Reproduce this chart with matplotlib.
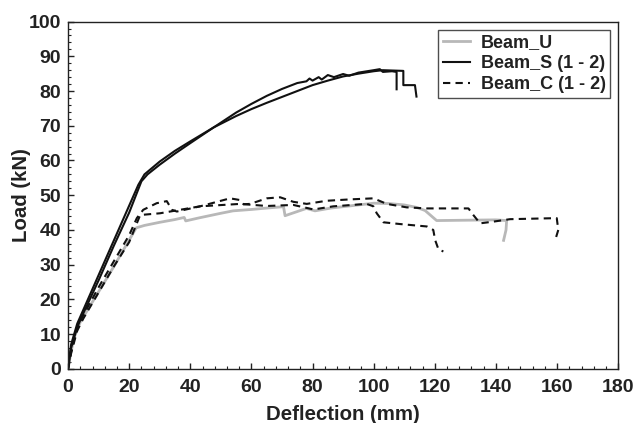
import matplotlib.pyplot as plt
from matplotlib.ticker import MultipleLocator

plt.rcParams['font.family'] = ['Liberation Sans', 'DejaVu Sans']
plt.rcParams['font.weight'] = 'bold'

# Beam_U (unstrengthened)
u_x = [0, 1, 2, 4, 10, 15, 22.3, 25, 30, 35, 38, 38.5, 43, 50, 54, 60, 65, 70.5, 71, 75, 78,
       80.8, 86, 92, 100, 105, 110, 114, 116.8, 120.6, 130, 140, 143.5, 143.3, 142.5]
u_y = [0, 5, 9, 13.5, 22.2, 29.5, 40.6, 41.3, 42.2, 43, 43.6, 42.6, 43.5, 44.8, 45.5, 45.9, 46.3, 46.7, 44.1, 45.3, 46.2,
       45.5, 46.3, 46.9, 47.7, 47.6, 47.2, 46.5, 45.6, 42.7, 42.8, 42.9, 42.7, 40, 37]

# Beam_S specimens 1 and 2
s1_x = [0, 1, 3, 5, 10, 15, 20, 24, 26, 30, 35, 40, 47.6, 55, 60, 65, 70, 75, 78, 79, 80, 82, 83,
        85, 87, 90, 92, 95, 100, 102, 103, 106, 107.5, 107.5]
s1_y = [0, 6, 12, 16, 25.5, 35.5, 45, 54, 56, 58.8, 62, 65, 69.5, 73.8, 76.3, 78.6, 80.6, 82.3, 82.8, 83.6, 83, 84, 83.3,
        84.6, 84, 84.9, 84.4, 85.3, 86, 86.3, 85.5, 85.7, 85.5, 80.5]
s2_x = [0, 1, 3, 5, 10, 15, 20, 23, 25, 30, 35, 40, 47.6, 55, 60, 65, 70, 75, 80, 85, 90, 95, 100,
        103, 109.7, 109.7, 113.5, 114]
s2_y = [0, 7, 13, 17, 27, 37, 47, 53, 56, 59.7, 62.8, 65.5, 69.5, 72.8, 74.8, 76.6, 78.3, 80, 81.7, 83, 84.2, 85, 85.7,
        86, 85.8, 81.7, 81.7, 78.4]

# Beam_C specimens 1 and 2
c1_x = [0, 1, 3, 5, 10, 15, 20, 22.5, 24.6, 29, 32.3, 34, 35.6, 43.2, 53, 56.3, 57.4, 59.6, 65, 69.4,
        73.7, 78.1, 84.6, 92.3, 99.9, 104.3, 110.8, 117.4, 131, 132.6, 134.8, 139.2, 144.6, 159.9,
        160.4, 159.4]
c1_y = [0, 5, 12, 15.5, 23.5, 31, 38.5, 43.4, 45.8, 47.7, 48.3, 45.8, 45.3, 46.8, 49.1, 48.6, 47.4, 47.5, 49.1, 49.4,
        48.1, 47.5, 48.4, 48.8, 49.1, 47.5, 46.5, 46.2, 46.2, 44.3, 41.9, 42.4, 43.1, 43.4,
        40, 37.1]
c2_x = [0, 1, 3, 5, 10, 15, 20, 23.6, 30.1, 43.2, 56.3, 65, 73.7, 80.3, 86.8, 97.7, 99.9, 101,
        103.2, 108.6, 117.4, 119.5, 120.1, 121.2, 122.8]
c2_y = [0, 4.5, 11, 14.5, 22, 29.5, 36.5, 44.3, 44.8, 46.8, 47.5, 46.9, 47.2, 45.9, 46.8, 47.5, 46.8, 44.8,
        42.2, 41.7, 41, 40, 37.1, 34.4, 33.8]

fig = plt.figure(figsize=(6.36, 4.23), dpi=100)
ax = fig.add_axes([0.107, 0.128, 0.865, 0.821])

ax.plot(u_x, u_y, color='#b8b8b8', lw=2, label='Beam_U')
ax.plot(s1_x, s1_y, color='#111111', lw=1.5, label='Beam_S (1 - 2)')
ax.plot(s2_x, s2_y, color='#111111', lw=1.5)
ax.plot(c1_x, c1_y, color='#111111', lw=1.5, ls=(0, (3.5, 2.5)), label='Beam_C (1 - 2)')
ax.plot(c2_x, c2_y, color='#111111', lw=1.5, ls=(0, (3.5, 2.5)))

ax.set_xlim(0, 180)
ax.set_ylim(0, 100)
ax.xaxis.set_major_locator(MultipleLocator(20))
ax.xaxis.set_minor_locator(MultipleLocator(4))
ax.yaxis.set_major_locator(MultipleLocator(10))
ax.yaxis.set_minor_locator(MultipleLocator(2))
ax.tick_params(which='both', direction='in', colors='#222222', labelsize=14)
ax.tick_params(axis='x', pad=7)
ax.tick_params(axis='y', pad=5)
ax.tick_params(which='major', length=4, width=1)
ax.tick_params(which='minor', length=2.5, width=0.8)
for lab in ax.get_xticklabels() + ax.get_yticklabels():
    lab.set_fontweight('bold')
for sp in ax.spines.values():
    sp.set_linewidth(1)
    sp.set_color('#222222')

ax.set_xlabel('Deflection (mm)', fontsize=14.7, fontweight='bold', color='#222222', labelpad=7)
ax.set_ylabel('Load (kN)', fontsize=14.7, fontweight='bold', color='#222222', labelpad=-1.5)

leg = ax.legend(loc='upper right', fontsize=13, frameon=True, fancybox=False,
                handlelength=1.5, handletextpad=0.6, borderpad=0.25, labelspacing=0.22,
                borderaxespad=0.45)
leg.get_frame().set_edgecolor('#222222')
leg.get_frame().set_linewidth(1)
for t in leg.get_texts():
    t.set_color('#222222')

fig.savefig('out.png', dpi=100)
